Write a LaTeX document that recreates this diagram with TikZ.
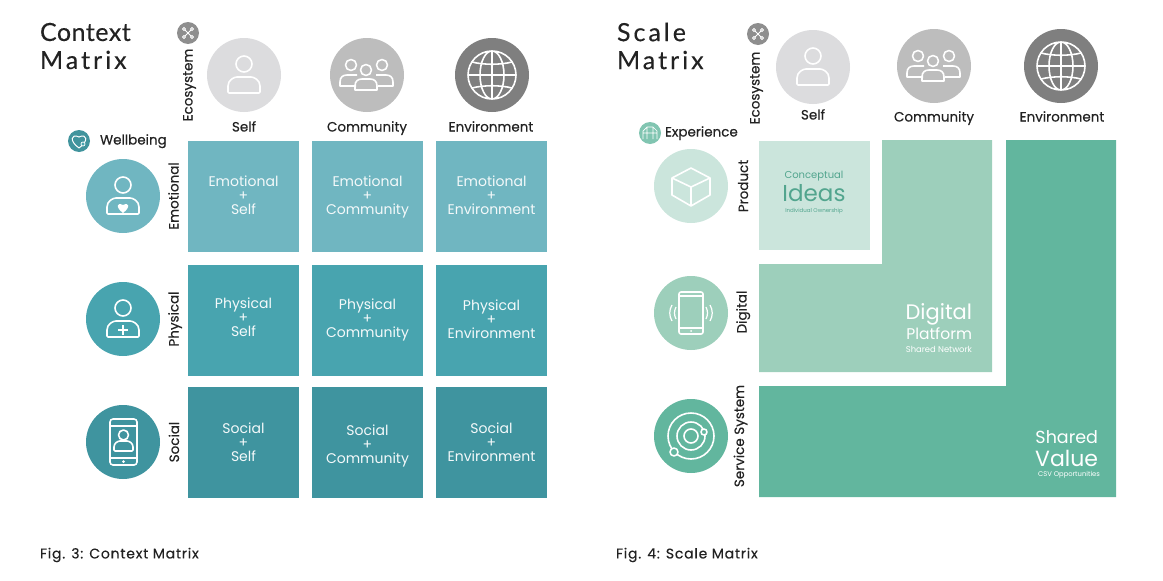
\documentclass[tikz,border=0pt]{standalone}
\usepackage{fontspec}
\setmainfont{Poppins}
\newfontfamily\labelfont{Poppins}[FakeBold=0.35]
\newfontfamily\titlefont{Lato}[FakeBold=0.3]
\usepackage{tikz}
\usetikzlibrary{positioning}
\definecolor{emotional}{HTML}{70B6C1}
\definecolor{physical}{HTML}{48A4AF}
\definecolor{social}{HTML}{3F949F}
\definecolor{paleteal}{HTML}{CBE5DC}
\definecolor{midteal}{HTML}{9DCFBB}
\definecolor{darkteal}{HTML}{62B69E}
\definecolor{ideasink}{HTML}{52A58E}
\definecolor{graylight}{HTML}{DCDCDE}
\definecolor{graymid}{HTML}{BDBDBD}
\definecolor{graydark}{HTML}{7F7F7F}
\definecolor{graybadge}{HTML}{8E8E8E}
\definecolor{labelink}{HTML}{222222}
\newcommand{\cellpair}[2]{\strut #1\\+\\\strut #2}
\newcommand{\titlepair}[3]{{\addfontfeature{LetterSpace=#3}#1}\\{\addfontfeature{LetterSpace=12}#2}}

\begin{document}
\begin{tikzpicture}[
  x=1pt,y=-1pt,
  every node/.style={inner sep=0pt,outer sep=0pt,text=labelink},
  title/.style={font={\titlefont\fontsize{25}{28}\selectfont},align=left,anchor=west},
  caption/.style={font={\labelfont\fontsize{14}{16}\selectfont\addfontfeature{LetterSpace=5.6}},anchor=west},
  head/.style={font={\labelfont\fontsize{13.5}{16}\selectfont},text height=10pt,text depth=3pt},
  side/.style={head,rotate=90},
  cell/.style={minimum size=111pt},
  celltext/.style={align=center,text=white!92!emotional,font=\fontsize{14}{14}\selectfont},
  disc/.style={circle,minimum size=74pt},
  badge/.style={circle,minimum size=22pt},
  icon/.style={draw=white,line width=1.6pt,fill=none,line join=round},
  person/.pic={
    \draw[icon] (0,-11) circle (8);
    \draw[icon,rounded corners=1pt] (-16,18) -- (-16,12) .. controls (-16,5) and (-10,2) .. (-6,2)
      -- (6,2) .. controls (10,2) and (16,5) .. (16,12) -- (16,18) -- cycle;
  },
  crowd/.pic={
    \draw[icon] (-16,-10) circle (5.5) (15,-10) circle (5.5) (-1,-5) circle (5.5);
    \draw[icon] (-11,11) -- (-27,11) -- (-27,7) .. controls (-27,2) and (-24,0) .. (-20,0) -- (-10,0);
    \draw[icon] (9,0) -- (19,0) .. controls (23,0) and (26,2) .. (26,7) -- (26,11) -- (11,11);
    \draw[icon] (-12,15) -- (-12,11) .. controls (-12,6) and (-9,4) .. (-5,4) -- (3,4)
      .. controls (7,4) and (10,6) .. (10,11) -- (10,15) -- cycle;
  },
  globe/.pic={
    \draw[icon] (0,0) circle (24) (0,0) ellipse (12 and 24) (0,-24) -- (0,24) (-24,0) -- (24,0);
    \draw[icon] (-20,-13) .. controls (-8,-10) and (8,-10) .. (20,-13);
    \draw[icon] (-20,13) .. controls (-8,10) and (8,10) .. (20,13);
  },
  cube/.pic={
    \draw[icon] (0,-18) -- (19,-8) -- (19,9) -- (0,20) -- (-19,9) -- (-19,-8) -- cycle;
    \draw[icon] (-19,-8) -- (0,1) -- (19,-8) (0,1) -- (0,20);
  },
  handset/.pic={
    \draw[icon,rounded corners=2pt] (-12,-21) rectangle (12,21);
    \draw[icon] (-12,-17) -- (12,-17) (-12,15) -- (12,15);
    \fill[white] (0,18) circle (1);
    \draw[icon,line width=1.2pt] (-15,-6) .. controls (-17,-2) and (-17,2) .. (-15,6);
    \draw[icon,line width=1.2pt] (-19,-8) .. controls (-22,-3) and (-22,3) .. (-19,8);
    \draw[icon,line width=1.2pt] (15,-6) .. controls (17,-2) and (17,2) .. (15,6);
    \draw[icon,line width=1.2pt] (19,-8) .. controls (22,-3) and (22,3) .. (19,8);
  },
  orbit/.pic={
    \draw[icon] (0,0) circle (7) (0,0) circle (14) (0,0) circle (23);
    \draw[icon,fill=darkteal] (13,-4) circle (3) (-17,16) circle (4);
  }
]
\useasboundingbox (0,0) rectangle (1163,581);

% context matrix
\node[title] (ctitle) at (40,46) {\titlepair{Context}{Matrix}{2}};
\node[caption] (ccaption) at (40,555) {Fig. 3: Context Matrix};

\node[badge,fill=graybadge] (ceco) at (188,33) {};
\draw[white,line width=.9pt] (185,30) -- (191,36) (191,30) -- (185,36);
\draw[white,line width=.9pt] (184,29) circle (1.6) (192,29) circle (1.6) (184,37) circle (1.6) (192,37) circle (1.6);
\node[side] (cecolabel) at (189,85) {Ecosystem};
\node[badge,fill=physical!90!black] (cwell) at (79,141) {};
\draw[white,line width=1pt] (79,148) .. controls (69,141) and (71,133) .. (79,137)
  .. controls (87,133) and (89,141) .. (79,148);
\draw[white,fill=physical,line width=.7pt] (83,144) circle (2);
\node[head,anchor=west] (cwelllabel) at (100,141) {Wellbeing};

\node[disc,fill=graylight] (cself) at (244,75) {};
\node[disc,fill=graymid] (ccomm) at (367,75) {};
\node[disc,fill=graydark] (cenv) at (492,75) {};
\pic at (cself) {person};
\pic at (ccomm) {crowd};
\pic at (cenv) {globe};
\node[head] (cselflabel) at (244,128) {Self};
\node[head] (ccommlabel) at (367,128) {Community};
\node[head] (cenvlabel) at (491,128) {Environment};

\node[disc,fill=emotional] (cemo) at (123,196) {};
\node[disc,fill=physical] (cphy) at (123,319) {};
\node[disc,fill=social] (csoc) at (123,442) {};
\pic at (cemo) {person};
\fill[white] (123,213) .. controls (115,207) and (117,202) .. (123,205)
  .. controls (129,202) and (131,207) .. (123,213);
\pic at (cphy) {person};
\draw[white,line width=1.8pt] (123,325) -- (123,335) (118,330) -- (128,330);
\draw[icon,rounded corners=3pt] (110,419) rectangle (137,465);
\draw[icon] (110,426) -- (137,426) (110,458) -- (137,458);
\fill[white] (123.5,461.5) circle (1.5);
\draw[icon] (123.5,435) circle (5);
\draw[icon,rounded corners=1pt] (114,451) -- (114,448) .. controls (114,443) and (118,441) .. (121,441)
  -- (126,441) .. controls (129,441) and (133,443) .. (133,448) -- (133,451) -- cycle;

\node[side] (cemolabel) at (175,196) {Emotional};
\node[side] (cphylabel) at (175,319) {Physical};
\node[side] (csoclabel) at (175.5,442) {Social};

\node[cell,fill=emotional] (c11) at (243.5,196) {};
\node[cell,fill=emotional,right=13pt of c11] (c12) {};
\node[cell,fill=emotional,right=13pt of c12] (c13) {};
\node[cell,fill=physical,below=13pt of c11] (c21) {};
\node[cell,fill=physical,right=13pt of c21] (c22) {};
\node[cell,fill=physical,right=13pt of c22] (c23) {};
\node[cell,fill=social,below=11pt of c21] (c31) {};
\node[cell,fill=social,right=13pt of c31] (c32) {};
\node[cell,fill=social,right=13pt of c32] (c33) {};

\node[celltext,yshift=-1pt] (t11) at (c11) {\cellpair{Emotional}{Self}};
\node[celltext,yshift=-1pt] (t12) at (c12) {\cellpair{Emotional}{Community}};
\node[celltext,yshift=-1pt] (t13) at (c13) {\cellpair{Emotional}{Environment}};
\node[celltext,yshift=1pt] (t21) at (c21) {\cellpair{Physical}{Self}};
\node[celltext,yshift=0pt] (t22) at (c22) {\cellpair{Physical}{Community}};
\node[celltext,yshift=-1pt] (t23) at (c23) {\cellpair{Physical}{Environment}};
\node[celltext,yshift=-2pt] (t31) at (c31) {\cellpair{Social}{Self}};
\node[celltext,yshift=-4pt] (t32) at (c32) {\cellpair{Social}{Community}};
\node[celltext,yshift=-2pt] (t33) at (c33) {\cellpair{Social}{Environment}};

% scale matrix
\node[title] (stitle) at (617,46) {\titlepair{Scale}{Matrix}{12}};
\node[caption] (scaption) at (616,555) {Fig. 4: Scale Matrix};

\node[badge,fill=graybadge] (seco) at (758,34) {};
\draw[white,line width=.9pt] (755,31) -- (761,37) (761,31) -- (755,37);
\draw[white,line width=.9pt] (754,30) circle (1.6) (762,30) circle (1.6) (754,38) circle (1.6) (762,38) circle (1.6);
\node[side] (secolabel) at (756,88) {Ecosystem};
\node[badge,fill=darkteal!80] (sexp) at (650,133) {};
\draw[white,line width=.7pt] (643,139) -- (643,131) -- (647,127) -- (653,127) -- (657,131) -- (657,139)
  (647,127) -- (647,139) (653,127) -- (653,139) (643,133) -- (657,133);
\node[head,anchor=west] (sexplabel) at (665,133) {Experience};

\node[disc,fill=graylight] (sself) at (813,67) {};
\node[disc,fill=graymid] (scomm) at (934,66) {};
\node[disc,fill=graydark] (senv) at (1061,66) {};
\pic at (sself) {person};
\pic at (scomm) {crowd};
\pic at (senv) {globe};
\node[head] (sselflabel) at (813,116) {Self};
\node[head] (scommlabel) at (934,118) {Community};
\node[head] (senvlabel) at (1062,118) {Environment};

\node[disc,fill=paleteal] (sprod) at (691,186) {};
\node[disc,fill=midteal] (sdig) at (691,313) {};
\node[disc,fill=darkteal] (sserv) at (691,436) {};
\pic at (sprod) {cube};
\pic at (sdig) {handset};
\pic at (sserv) {orbit};

\node[side] (sprodlabel) at (744.5,186) {Product};
\node[side] (sdiglabel) at (743,312) {Digital};
\node[side] (sservlabel) at (740.5,436) {Service System};

\fill[darkteal] (1006,140) -- (1116,140) -- (1116,497) -- (759,497) -- (759,386) -- (1006,386) -- cycle;
\fill[midteal] (882,140) -- (992,140) -- (992,372) -- (759,372) -- (759,264) -- (882,264) -- cycle;
\fill[paleteal] (759,141) rectangle (870,250);

\node[text=ideasink,font=\fontsize{10}{12}\selectfont] (sconcept) at (814,176) {Conceptual};
\node[text=ideasink,font=\fontsize{23}{24}\selectfont] (sideas) at (814,193) {Ideas};
\node[text=ideasink,font=\fontsize{5.5}{6}\selectfont] (sowner) at (814,211) {Individual Ownership};

\node[text=white,font=\fontsize{21}{24}\selectfont,anchor=east] (sdigital) at (972,314) {Digital};
\node[text=white,font=\fontsize{15.5}{16}\selectfont,anchor=east] (splatform) at (972,334) {Platform};
\node[text=white,font=\fontsize{8.4}{8}\selectfont,anchor=east] (snetwork) at (972,349) {Shared Network};

\node[text=white,font=\fontsize{17.5}{20}\selectfont,anchor=east] (sshared) at (1098,437) {Shared};
\node[text=white,font=\fontsize{22}{24}\selectfont,anchor=east] (svalue) at (1098,458) {Value};
\node[text=white,font=\fontsize{6.8}{8}\selectfont,anchor=east] (scsv) at (1100,475) {CSV Opportunities};
\end{tikzpicture}
\end{document}
